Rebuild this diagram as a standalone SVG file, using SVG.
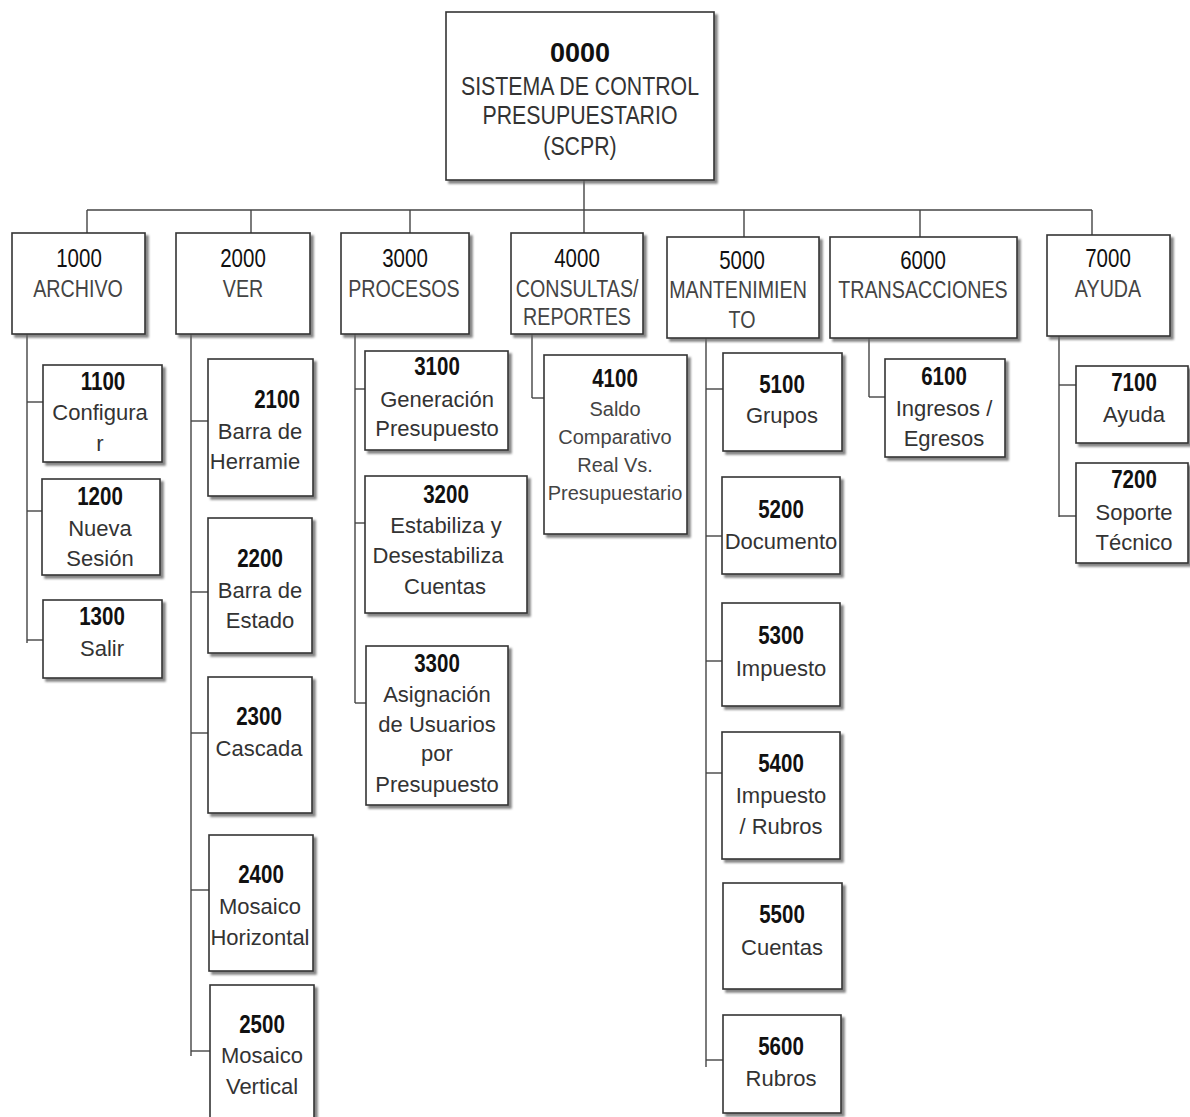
<svg xmlns="http://www.w3.org/2000/svg" width="1190" height="1117" viewBox="0 0 1190 1117">
<defs>
<filter id="sh" x="-10%" y="-10%" width="130%" height="130%">
<feDropShadow dx="3" dy="3" stdDeviation="1.2" flood-color="#666" flood-opacity="0.8"/>
</filter>
<style>
rect{fill:#fff;stroke:#333;stroke-width:1.6;filter:url(#sh)}
.c line{stroke:#444;stroke-width:1.4}
text{text-anchor:middle}
.nw{transform-box:fill-box;transform-origin:center;transform:scaleX(0.82)}
.rn{font-family:"Liberation Sans",sans-serif;font-weight:bold;font-size:27px;fill:#111}
.rl{font-family:"Liberation Sans",sans-serif;font-size:26px;fill:#333}
.n1{font-family:"Liberation Sans",sans-serif;font-size:25px;fill:#111}
.l1{font-family:"Liberation Sans",sans-serif;font-size:24px;fill:#444}
.n2{font-family:"Liberation Sans",sans-serif;font-weight:bold;font-size:25px;fill:#111}
.l2{font-family:"Liberation Sans",sans-serif;font-size:22px;fill:#333}
.l3{font-family:"Liberation Sans",sans-serif;font-size:20px;fill:#444}
</style>
</defs>
<g class="c" id="connectors">
<line x1="584" y1="180" x2="584" y2="233"/>
<line x1="87" y1="210" x2="1092" y2="210"/>
<line x1="87" y1="210" x2="87" y2="233"/>
<line x1="251" y1="210" x2="251" y2="233"/>
<line x1="410" y1="210" x2="410" y2="233"/>
<line x1="744" y1="210" x2="744" y2="237"/>
<line x1="920" y1="210" x2="920" y2="237"/>
<line x1="1092" y1="210" x2="1092" y2="235"/>
<line x1="27" y1="334" x2="27" y2="643"/>
<line x1="27" y1="402" x2="43" y2="402"/>
<line x1="27" y1="511" x2="42" y2="511"/>
<line x1="27" y1="640" x2="43" y2="640"/>
<line x1="191" y1="334" x2="191" y2="1056"/>
<line x1="191" y1="421" x2="208" y2="421"/>
<line x1="191" y1="592" x2="208" y2="592"/>
<line x1="191" y1="733" x2="208" y2="733"/>
<line x1="191" y1="890" x2="209" y2="890"/>
<line x1="191" y1="1051" x2="210" y2="1051"/>
<line x1="355" y1="334" x2="355" y2="703"/>
<line x1="355" y1="389" x2="365" y2="389"/>
<line x1="355" y1="523" x2="365" y2="523"/>
<line x1="355" y1="703" x2="366" y2="703"/>
<line x1="532" y1="334" x2="532" y2="398"/>
<line x1="532" y1="398" x2="544" y2="398"/>
<line x1="706" y1="338" x2="706" y2="1067"/>
<line x1="706" y1="389" x2="723" y2="389"/>
<line x1="706" y1="536" x2="722" y2="536"/>
<line x1="706" y1="661" x2="722" y2="661"/>
<line x1="706" y1="773" x2="722" y2="773"/>
<line x1="706" y1="1060" x2="723" y2="1060"/>
<line x1="869" y1="338" x2="869" y2="397"/>
<line x1="869" y1="397" x2="885" y2="397"/>
<line x1="1059" y1="336" x2="1059" y2="517"/>
<line x1="1059" y1="385" x2="1076" y2="385"/>
<line x1="1059" y1="516" x2="1076" y2="516"/>
</g>
<g id="n0000"><rect x="446" y="12" width="268" height="168"/>
<text class="rn" x="580" y="62">0000</text>
<text class="rl nw" x="580" y="95">SISTEMA DE CONTROL</text>
<text class="rl nw" x="580" y="124">PRESUPUESTARIO</text>
<text class="rl nw" x="580" y="155">(SCPR)</text></g>
<g id="n1000"><rect x="12" y="233" width="133" height="101"/>
<text class="n1 nw" x="79" y="267">1000</text><text class="l1 nw" x="78" y="297">ARCHIVO</text></g>
<g id="n2000"><rect x="176" y="233" width="134" height="101"/>
<text class="n1 nw" x="243" y="267">2000</text><text class="l1 nw" x="243" y="297">VER</text></g>
<g id="n3000"><rect x="341" y="233" width="128" height="101"/>
<text class="n1 nw" x="405" y="267">3000</text><text class="l1 nw" x="404" y="297">PROCESOS</text></g>
<g id="n4000"><rect x="511" y="233" width="132" height="101"/>
<text class="n1 nw" x="577" y="267">4000</text><text class="l1 nw" x="577" y="297">CONSULTAS/</text><text class="l1 nw" x="577" y="325">REPORTES</text></g>
<g id="n5000"><rect x="667" y="237" width="152" height="101"/>
<text class="n1 nw" x="742" y="269">5000</text><text class="l1 nw" x="738" y="298">MANTENIMIEN</text><text class="l1 nw" x="742" y="328">TO</text></g>
<g id="n6000"><rect x="830" y="237" width="187" height="101"/>
<text class="n1 nw" x="923" y="269">6000</text><text class="l1 nw" x="923" y="298">TRANSACCIONES</text></g>
<g id="n7000"><rect x="1047" y="235" width="123" height="101"/>
<text class="n1 nw" x="1108" y="267">7000</text><text class="l1 nw" x="1108" y="297">AYUDA</text></g>
<g id="n1100"><rect x="43" y="365" width="119" height="97"/>
<text class="n2 nw" x="103" y="390">1100</text><text class="l2" x="100" y="420">Configura</text><text class="l2" x="100" y="451">r</text></g>
<g id="n1200"><rect x="42" y="479" width="118" height="96"/>
<text class="n2 nw" x="100" y="505">1200</text><text class="l2" x="100" y="536">Nueva</text><text class="l2" x="100" y="566">Sesión</text></g>
<g id="n1300"><rect x="43" y="600" width="119" height="78"/>
<text class="n2 nw" x="102" y="625">1300</text><text class="l2" x="102" y="656">Salir</text></g>
<g id="n2100"><rect x="208" y="359" width="105" height="137"/>
<text class="n2 nw" x="277" y="408">2100</text><text class="l2" x="260" y="439">Barra de</text><text class="l2" x="255" y="469">Herramie</text></g>
<g id="n2200"><rect x="208" y="518" width="104" height="135"/>
<text class="n2 nw" x="260" y="567">2200</text><text class="l2" x="260" y="598">Barra de</text><text class="l2" x="260" y="628">Estado</text></g>
<g id="n2300"><rect x="208" y="677" width="104" height="136"/>
<text class="n2 nw" x="259" y="725">2300</text><text class="l2" x="259" y="756">Cascada</text></g>
<g id="n2400"><rect x="209" y="835" width="104" height="136"/>
<text class="n2 nw" x="261" y="883">2400</text><text class="l2" x="260" y="914">Mosaico</text><text class="l2" x="260" y="945">Horizontal</text></g>
<g id="n2500"><rect x="210" y="985" width="104" height="145"/>
<text class="n2 nw" x="262" y="1033">2500</text><text class="l2" x="262" y="1063">Mosaico</text><text class="l2" x="262" y="1094">Vertical</text></g>
<g id="n3100"><rect x="365" y="351" width="143" height="99"/>
<text class="n2 nw" x="437" y="375">3100</text><text class="l2" x="437" y="407">Generación</text><text class="l2" x="437" y="436">Presupuesto</text></g>
<g id="n3200"><rect x="365" y="476" width="162" height="137"/>
<text class="n2 nw" x="446" y="503">3200</text><text class="l2" x="446" y="533">Estabiliza y</text><text class="l2" x="438" y="563">Desestabiliza</text><text class="l2" x="445" y="594">Cuentas</text></g>
<g id="n3300"><rect x="366" y="646" width="142" height="159"/>
<text class="n2 nw" x="437" y="672">3300</text><text class="l2" x="437" y="702">Asignación</text><text class="l2" x="437" y="732">de Usuarios</text><text class="l2" x="437" y="761">por</text><text class="l2" x="437" y="792">Presupuesto</text></g>
<g id="n4100"><rect x="544" y="355" width="143" height="179"/>
<text class="n2 nw" x="615" y="387">4100</text><text class="l3" x="615" y="416">Saldo</text><text class="l3" x="615" y="444">Comparativo</text><text class="l3" x="615" y="472">Real Vs.</text><text class="l3" x="615" y="500">Presupuestario</text></g>
<g id="n5100"><rect x="723" y="353" width="119" height="98"/>
<text class="n2 nw" x="782" y="393">5100</text><text class="l2" x="782" y="423">Grupos</text></g>
<g id="n5200"><rect x="722" y="477" width="118" height="97"/>
<text class="n2 nw" x="781" y="518">5200</text><text class="l2" x="781" y="549">Documento</text></g>
<g id="n5300"><rect x="722" y="603" width="118" height="103"/>
<text class="n2 nw" x="781" y="644">5300</text><text class="l2" x="781" y="676">Impuesto</text></g>
<g id="n5400"><rect x="722" y="732" width="118" height="127"/>
<text class="n2 nw" x="781" y="772">5400</text><text class="l2" x="781" y="803">Impuesto</text><text class="l2" x="781" y="834">/ Rubros</text></g>
<g id="n5500"><rect x="723" y="883" width="119" height="106"/>
<text class="n2 nw" x="782" y="923">5500</text><text class="l2" x="782" y="955">Cuentas</text></g>
<g id="n5600"><rect x="723" y="1015" width="118" height="98"/>
<text class="n2 nw" x="781" y="1055">5600</text><text class="l2" x="781" y="1086">Rubros</text></g>
<g id="n6100"><rect x="885" y="359" width="120" height="98"/>
<text class="n2 nw" x="944" y="385">6100</text><text class="l2" x="944" y="416">Ingresos /</text><text class="l2" x="944" y="446">Egresos</text></g>
<g id="n7100"><rect x="1076" y="366" width="112" height="77"/>
<text class="n2 nw" x="1134" y="391">7100</text><text class="l2" x="1134" y="422">Ayuda</text></g>
<g id="n7200"><rect x="1076" y="463" width="112" height="100"/>
<text class="n2 nw" x="1134" y="488">7200</text><text class="l2" x="1134" y="520">Soporte</text><text class="l2" x="1134" y="550">Técnico</text></g>
</svg>
